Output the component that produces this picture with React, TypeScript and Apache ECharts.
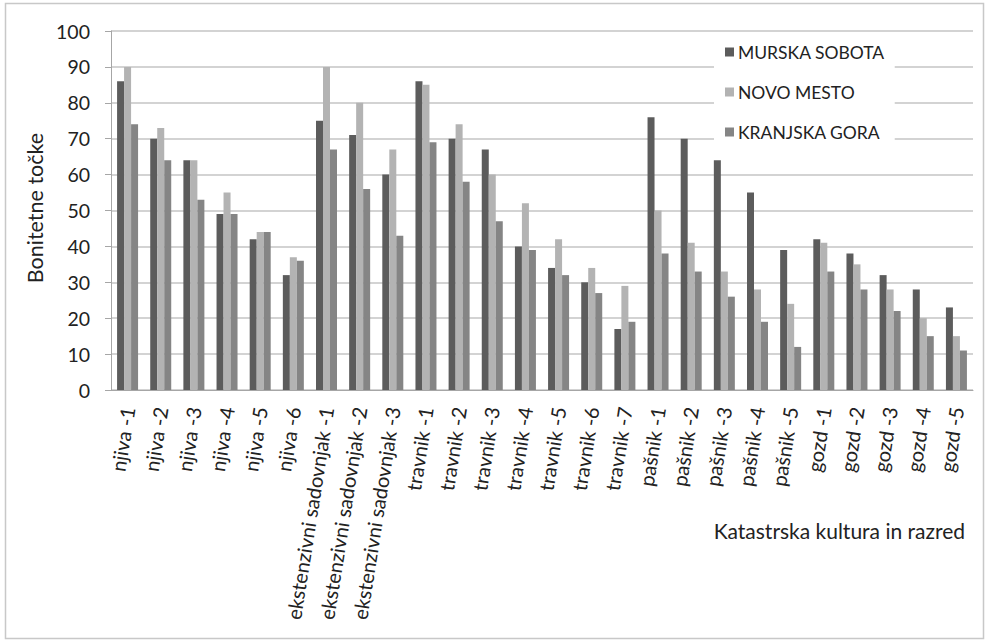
import React, { useEffect, useRef } from "react";
import * as echarts from "echarts";

const categories = [
  "njiva -1", "njiva -2", "njiva -3", "njiva -4", "njiva -5", "njiva -6",
  "ekstenzivni sadovnjak -1", "ekstenzivni sadovnjak -2", "ekstenzivni sadovnjak -3",
  "travnik -1", "travnik -2", "travnik -3", "travnik -4", "travnik -5", "travnik -6", "travnik -7",
  "pašnik -1", "pašnik -2", "pašnik -3", "pašnik -4", "pašnik -5",
  "gozd -1", "gozd -2", "gozd -3", "gozd -4", "gozd -5",
];

const murskaSobota = [86, 70, 64, 49, 42, 32, 75, 71, 60, 86, 70, 67, 40, 34, 30, 17, 76, 70, 64, 55, 39, 42, 38, 32, 28, 23];
const novoMesto = [90, 73, 64, 55, 44, 37, 90, 80, 67, 85, 74, 60, 52, 42, 34, 29, 50, 41, 33, 28, 24, 41, 35, 28, 20, 15];
const kranjskaGora = [74, 64, 53, 49, 44, 36, 67, 56, 43, 69, 58, 47, 39, 32, 27, 19, 38, 33, 26, 19, 12, 33, 28, 22, 15, 11];

const seriesNames = ["MURSKA SOBOTA", "NOVO MESTO", "KRANJSKA GORA"];
const yTicks = [0, 10, 20, 30, 40, 50, 60, 70, 80, 90, 100];

const FONT = "Lato, 'Open Sans', sans-serif";

export default function App() {
  const ref = useRef<HTMLDivElement>(null);
  useEffect(() => {
    if (!ref.current) return;
    const chart = echarts.init(ref.current, undefined, { renderer: "svg" });
    const colors = ["#5c5c5c", "#b3b3b3", "#858585"];
    const data = [murskaSobota, novoMesto, kranjskaGora];
    chart.setOption({
      animation: false,
      backgroundColor: "#ffffff",
      textStyle: { fontFamily: FONT },
      grid: { left: 111, right: 13, top: 31, bottom: 251, containLabel: false },
      legend: {
        orient: "vertical",
        left: 714,
        top: 39,
        backgroundColor: "#ffffff",
        padding: [4, 10, 8, 11],
        itemWidth: 9,
        itemHeight: 9,
        itemGap: 22,
        icon: "rect",
        textStyle: { fontSize: 17.5, color: "#222", fontFamily: FONT, padding: [0, 0, 0, -1] },
        data: seriesNames,
      },
      xAxis: {
        type: "category",
        data: categories,
        axisLine: { show: true, lineStyle: { color: "#a6a6a6", width: 1 } },
        axisTick: { show: false },
        axisLabel: {
          rotate: 81,
          interval: 0,
          fontSize: 20,
          color: "#222",
          margin: 17,
          fontFamily: FONT,
        },
      },
      yAxis: {
        type: "value",
        min: yTicks[0],
        max: yTicks[yTicks.length - 1],
        interval: 10,
        axisLine: { show: true, lineStyle: { color: "#a6a6a6", width: 1 } },
        axisTick: { show: true, length: 6, lineStyle: { color: "#a6a6a6" } },
        axisLabel: { fontSize: 19.5, color: "#222", margin: 21, fontFamily: FONT },
        splitLine: { show: true, lineStyle: { color: "#c4c4c4", width: 1.5 } },
      },
      series: seriesNames.map((name, i) => ({
        name,
        type: "bar",
        data: data[i],
        barWidth: 7,
        barGap: "0%",
        itemStyle: { color: colors[i] },
      })),
      graphic: [
        {
          type: "rect",
          silent: true,
          z: -1,
          shape: { x: 5.5, y: 3.5, width: 978, height: 635 },
          style: { fill: "none", stroke: "#c8c8c8", lineWidth: 1.5 },
        },
        {
          type: "text",
          x: 35,
          y: 208,
          rotation: Math.PI / 2,
          style: {
            text: "Bonitetne točke",
            fontSize: 21.5,
            fill: "#222",
            fontFamily: FONT,
            align: "center",
            verticalAlign: "middle",
          },
        },
        {
          type: "text",
          x: 965,
          y: 530,
          style: {
            text: "Katastrska kultura in razred",
            fontSize: 21,
            fill: "#222",
            fontFamily: FONT,
            align: "right",
            verticalAlign: "middle",
          },
        },
      ],
    });
    return () => chart.dispose();
  }, []);
  return (
    <div
      ref={ref}
      style={{ position: "fixed", left: 0, top: 0, width: 986, height: 641 }}
    />
  );
}
